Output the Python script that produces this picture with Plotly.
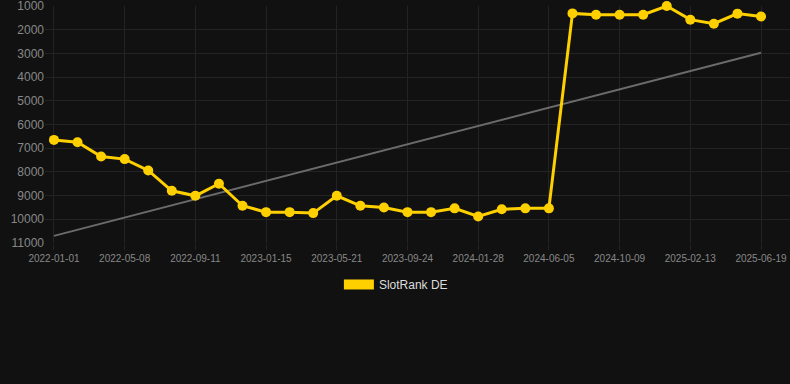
import plotly.graph_objects as go

dates = [
    "2022-01-01", "2022-02-12", "2022-03-26", "2022-05-08", "2022-06-19", "2022-07-31",
    "2022-09-11", "2022-10-23", "2022-12-04", "2023-01-15", "2023-02-26", "2023-04-09",
    "2023-05-21", "2023-07-02", "2023-08-13", "2023-09-24", "2023-11-05", "2023-12-17",
    "2024-01-28", "2024-03-11", "2024-04-23", "2024-06-05", "2024-07-17", "2024-08-28",
    "2024-10-09", "2024-11-20", "2025-01-01", "2025-02-13", "2025-03-27", "2025-05-08",
    "2025-06-19",
]
rank_de = [
    6650, 6750, 7350, 7460, 7940, 8800, 9010, 8500, 9430, 9700, 9700, 9740,
    9010, 9430, 9500, 9700, 9700, 9540, 9880, 9580, 9540, 9540,
    1310, 1365, 1365, 1365, 1000, 1575, 1745, 1320, 1440,
]
trend_dates = ["2022-01-01", "2025-06-19"]
trend_values = [10700, 2970]
tick_labels = dates[::3]
y_ticks = [1000, 2000, 3000, 4000, 5000, 6000, 7000, 8000, 9000, 10000, 11000]
y_tick_text = [str(v) for v in y_ticks]

YELLOW = "#FFD000"
BG = "#111111"
GRID = "#232323"

fig = go.Figure()
fig.add_trace(go.Scatter(
    x=trend_dates, y=trend_values, mode="lines",
    line=dict(color="#6b6b6b", width=2), showlegend=False, hoverinfo="skip",
))
fig.add_trace(go.Scatter(
    x=dates, y=rank_de, mode="lines+markers", name="SlotRank DE",
    line=dict(color=YELLOW, width=3), marker=dict(color=YELLOW, size=10),
    showlegend=False, cliponaxis=False,
))
fig.add_trace(go.Scatter(
    x=[None], y=[None], mode="lines", name="SlotRank DE",
    line=dict(color=YELLOW, width=12), showlegend=True,
))

fig.update_layout(
    width=790, height=384,
    paper_bgcolor=BG, plot_bgcolor=BG,
    margin=dict(l=45, r=0, t=6, b=141),
    font=dict(family="Liberation Sans, Arial, sans-serif", color="#888888"),
    showlegend=True,
    legend=dict(
        orientation="h", x=0.471, xanchor="center", y=-0.175, yanchor="middle",
        font=dict(size=12, color="#dddddd"), bgcolor="rgba(0,0,0,0)",
    ),
    xaxis=dict(
        type="category", categoryorder="array", categoryarray=dates,
        range=[-0.38, 31.23],
        tickmode="array", tickvals=tick_labels, ticktext=tick_labels,
        showgrid=True, gridcolor=GRID, gridwidth=1,
        ticks="outside", ticklen=6, tickcolor=GRID,
        showline=False, zeroline=False,
        tickfont=dict(size=10, color="#888888"),
        ticklabeloverflow="allow",
    ),
    yaxis=dict(
        range=[11002, 998],
        tickmode="array", tickvals=y_ticks, ticktext=y_tick_text,
        showgrid=True, gridcolor=GRID, gridwidth=1,
        showline=False, zeroline=False, ticks="",
        tickfont=dict(size=12, color="#888888"),
        ticklabeloverflow="allow",
    ),
)

fig.write_html(
    "out.html",
    config={"displayModeBar": False},
    post_script="document.body.style.margin='0';document.body.style.background='#111111';",
)
